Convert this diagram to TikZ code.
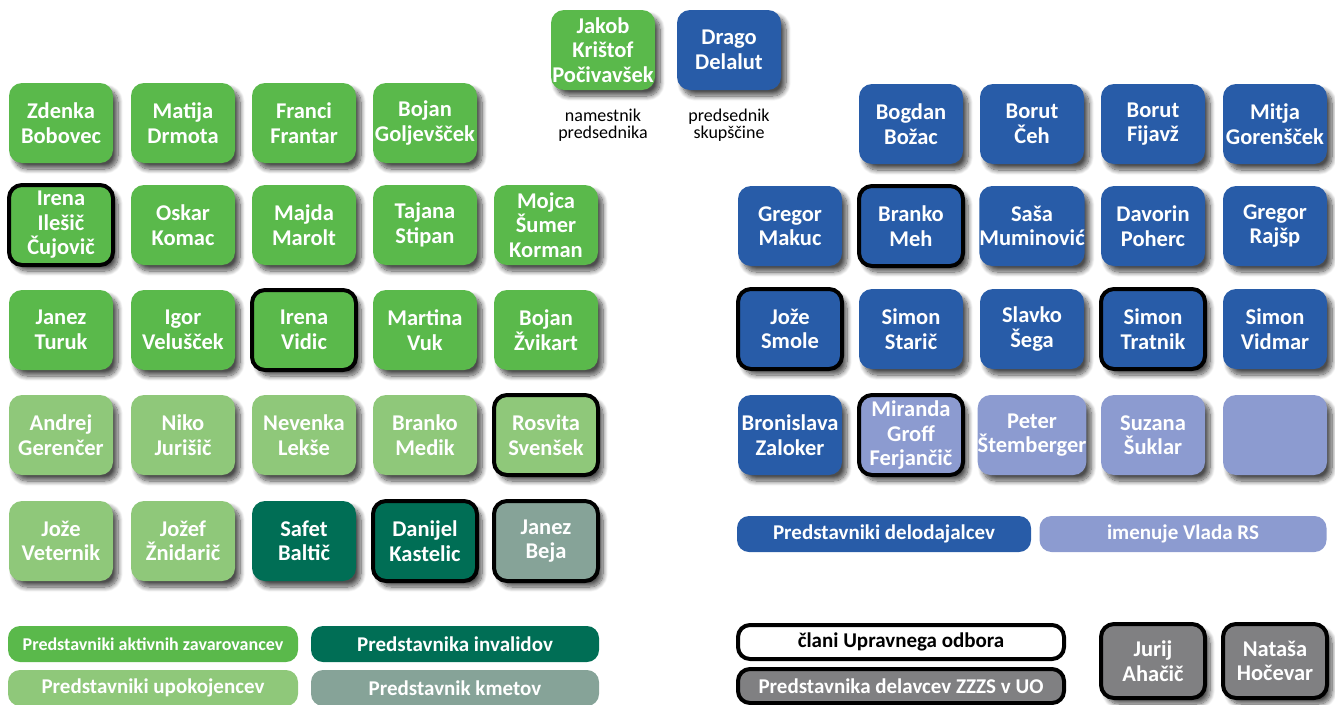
\documentclass[tikz,border=0pt]{standalone}
\usepackage{fontspec}
\setmainfont{Carlito}
\usepackage{tikz}
\usetikzlibrary{positioning, shadows.blur}
\definecolor{mygreen}{RGB}{90,185,75}
\definecolor{mylightgreen}{RGB}{143,200,122}
\definecolor{mydarkgreen}{RGB}{0,110,85}
\definecolor{mygreygreen}{RGB}{134,163,152}
\definecolor{myblue}{RGB}{40,92,168}
\definecolor{mylightblue}{RGB}{140,155,208}
\definecolor{mygrey}{RGB}{128,128,130}

\tikzset{
  member/.style={rounded corners=13pt, minimum width=104pt, minimum height=80pt, inner sep=0pt,
    text=white, align=center, font=\fontsize{22.5}{24.5}\selectfont\bfseries,
    blur shadow={shadow xshift=5pt, shadow yshift=-6pt, shadow blur steps=10, shadow blur radius=5pt, shadow opacity=70}},
  board/.style={draw=black, line width=4pt},
  legend/.style={rounded corners=12pt, minimum width=290pt, minimum height=36pt, inner sep=0pt,
    text=white, font=\fontsize{21}{22}\selectfont\bfseries},
  caption/.style={align=center, font=\fontsize{18}{17.5}\selectfont}
}

\begin{document}
\begin{tikzpicture}[x=1pt, y=-1pt]
\useasboundingbox (0,0) rectangle (1335,704);

% vodstvo skupscine
\node[member, fill=mygreen] (pocivavsek) at (603,50) {Jakob\\Krištof\\Počivavšek};
\node[member, fill=myblue] (delalut) at (729,50) {Drago\\Delalut};
\node[caption] (namestnik) at (603,125) {namestnik\\predsednika};
\node[caption] (predsednik) at (729,125) {predsednik\\skupščine};

% aktivni zavarovanci
\node[member, fill=mygreen] (bobovec) at (61,123) {Zdenka\\Bobovec};
\node[member, fill=mygreen] (drmota) at (183,123) {Matija\\Drmota};
\node[member, fill=mygreen] (frantar) at (304,123) {Franci\\Frantar};
\node[member, fill=mygreen] (goljevscek) at (425,123) {Bojan\\Goljevšček};

\node[member, board, fill=mygreen] (cujovic) at (61,225) {Irena\\Ilešič\\Čujovič};
\node[member, fill=mygreen] (komac) at (183,225) {Oskar\\Komac};
\node[member, fill=mygreen] (marolt) at (304,225) {Majda\\Marolt};
\node[member, fill=mygreen] (stipan) at (425,225) {Tajana\\Stipan};
\node[member, fill=mygreen] (korman) at (546,225) {Mojca\\Šumer\\Korman};

\node[member, fill=mygreen] (turuk) at (61,330) {Janez\\Turuk};
\node[member, fill=mygreen] (veluscek) at (183,330) {Igor\\Velušček};
\node[member, board, fill=mygreen] (vidic) at (304,330) {Irena\\Vidic};
\node[member, fill=mygreen] (vuk) at (425,330) {Martina\\Vuk};
\node[member, fill=mygreen] (zvikart) at (546,330) {Bojan\\Žvikart};

% upokojenci
\node[member, fill=mylightgreen] (gerencer) at (61,435) {Andrej\\Gerenčer};
\node[member, fill=mylightgreen] (jurisic) at (183,435) {Niko\\Jurišič};
\node[member, fill=mylightgreen] (lekse) at (304,435) {Nevenka\\Lekše};
\node[member, fill=mylightgreen] (medik) at (425,435) {Branko\\Medik};
\node[member, board, fill=mylightgreen] (svensek) at (546,435) {Rosvita\\Svenšek};

\node[member, fill=mylightgreen] (veternik) at (61,541) {Jože\\Veternik};
\node[member, fill=mylightgreen] (znidaric) at (183,541) {Jožef\\Žnidarič};

% invalidi in kmetje
\node[member, fill=mydarkgreen] (baltic) at (304,541) {Safet\\Baltič};
\node[member, board, fill=mydarkgreen] (kastelic) at (425,541) {Danijel\\Kastelic};
\node[member, board, fill=mygreygreen] (beja) at (546,541) {Janez\\Beja};

% delodajalci
\node[member, fill=myblue] (bozac) at (911,124) {Bogdan\\Božac};
\node[member, fill=myblue] (ceh) at (1032,124) {Borut\\Čeh};
\node[member, fill=myblue] (fijavz) at (1153,124) {Borut\\Fijavž};
\node[member, fill=myblue] (gorenscek) at (1275,124) {Mitja\\Gorenšček};

\node[member, fill=myblue] (makuc) at (790,226) {Gregor\\Makuc};
\node[member, board, fill=myblue] (meh) at (911,226) {Branko\\Meh};
\node[member, fill=myblue] (muminovic) at (1032,226) {Saša\\Muminović};
\node[member, fill=myblue] (poherc) at (1153,226) {Davorin\\Poherc};
\node[member, fill=myblue] (rajsp) at (1275,226) {Gregor\\Rajšp};

\node[member, board, fill=myblue] (smole) at (790,329) {Jože\\Smole};
\node[member, fill=myblue] (staric) at (911,329) {Simon\\Starič};
\node[member, fill=myblue] (sega) at (1032,329) {Slavko\\Šega};
\node[member, board, fill=myblue] (tratnik) at (1153,329) {Simon\\Tratnik};
\node[member, fill=myblue] (vidmar) at (1275,329) {Simon\\Vidmar};

\node[member, fill=myblue] (zaloker) at (790,435) {Bronislava\\Zaloker};

% vlada RS
\node[member, board, fill=mylightblue] (ferjancic) at (911,435) {Miranda\\Groff\\Ferjančič};
\node[member, fill=mylightblue] (stemberger) at (1032,435) {Peter\\Štemberger};
\node[member, fill=mylightblue] (suklar) at (1153,435) {Suzana\\Šuklar};
\node[member, fill=mylightblue] (prazno) at (1275,435) {};

% legenda
\node[legend, fill=myblue, minimum width=294pt] (legdelodajalci) at (884,534) {Predstavniki delodajalcev};
\node[legend, fill=mylightblue, minimum width=287pt] (legvlada) at (1183,534) {imenuje Vlada RS};

\node[legend, fill=mygreen, font=\fontsize{18}{20}\selectfont\bfseries] (legaktivni) at (153,644) {Predstavniki aktivnih zavarovancev};
\node[legend, fill=mylightgreen] (legupokojenci) at (153,688) {Predstavniki upokojencev};
\node[legend, fill=mydarkgreen, minimum width=288pt] (leginvalidi) at (455,644) {Predstavnika invalidov};
\node[legend, fill=mygreygreen, minimum width=288pt] (legkmetje) at (455,688) {Predstavnik kmetov};

\node[legend, board, fill=white, text=black, minimum width=326pt, minimum height=34pt] (legupravni) at (901,642) {člani Upravnega odbora};
\node[legend, board, fill=mygrey, minimum width=326pt, minimum height=34pt] (legdelavci) at (901,686) {Predstavnika delavcev ZZZS v UO};

% delavci ZZZS
\node[member, board, fill=mygrey, minimum width=104pt, minimum height=74pt] (ahacic) at (1153,661) {Jurij\\Ahačič};
\node[member, board, fill=mygrey, minimum width=104pt, minimum height=74pt] (hocevar) at (1275,661) {Nataša\\Hočevar};
\end{tikzpicture}
\end{document}
